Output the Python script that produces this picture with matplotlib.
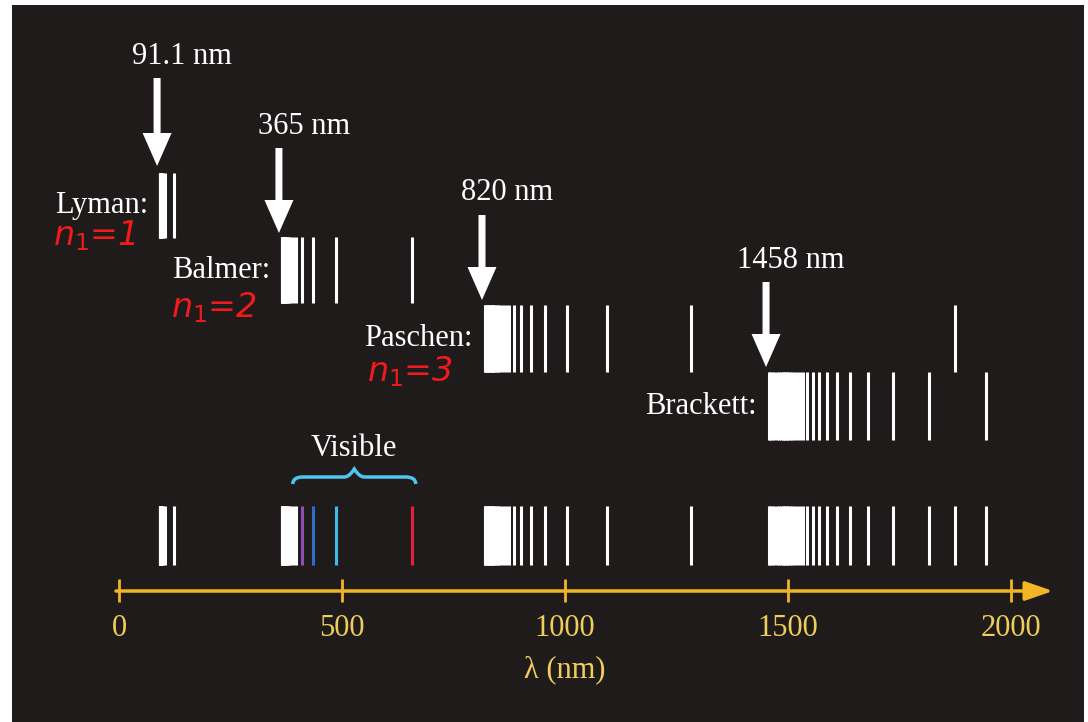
import matplotlib
matplotlib.use("Agg")
import matplotlib.pyplot as plt
from matplotlib.path import Path
from matplotlib.patches import PathPatch

# hydrogen lines (nm)
lyman = [121.6, 102.6, 97.3, 95.0, 93.8, 93.1, 92.6, 92.3, 92.1, 91.9, 91.7, 91.5, 91.3, 91.1]
balmer = [656.3, 486.1, 434.0, 410.2, 397.0, 388.9, 383.5, 379.8, 377.1, 375.0, 373.4,
          372.2, 371.2, 370.4, 369.7, 368.5, 367.5, 366.6, 365.8, 365.1, 364.6]
paschen = [1875.1, 1281.8, 1093.8, 1004.9, 954.6, 922.9, 901.5, 886.3, 875.0, 866.5,
           859.8, 854.5, 850.2, 846.7, 843.8, 841.3, 839.2, 837.4, 835.9, 834.5,
           832.2, 830.4, 829.0, 826.5, 824.5, 822.5, 821.3, 820.4]
brackett = [1944.6, 1817.4, 1736.2, 1680.7, 1640.7, 1611.0, 1588.2, 1570.3, 1556.0,
            1544.3, 1534.7, 1526.6, 1519.8, 1513.9, 1508.9, 1504.5, 1500.7, 1497.3,
            1494.3, 1491.6, 1489.2, 1485.1, 1480.0, 1475.0, 1470.0, 1465.0, 1461.0, 1458.0]

series_names = ["Lyman:", "Balmer:", "Paschen:", "Brackett:"]
series_lines = [lyman, balmer, paschen, brackett]
limits = [91.1, 364.6, 820.4, 1458.0]
limit_labels = ["91.1 nm", "365 nm", "820 nm", "1458 nm"]
n1_labels = [r"$n_1$=1", r"$n_1$=2", r"$n_1$=3"]

# coloured lines in the visible range
visible_colors = {410.2: "#8e4cb8", 434.0: "#2f6fd0", 486.1: "#3fbbe8", 656.3: "#e2203e"}
visible_range = (389, 665)

ticks = [0, 500, 1000, 1500, 2000]

# layout (pixel rows of the 1088x722 picture, y axis is inverted)
px_per_nm = 0.4455
row_spans = [(173, 238), (237, 303), (305, 372), (372, 440)]
arrow_tops = [78, 148, 215, 282]
arrow_tips = [166, 233, 300, 367]
n1_pos = [(95, 236), (214, 308), (410, 372)]
combined_span = (506, 565)
axis_y = 591

bg = "#1f1b1b"
gold = "#f2b525"
tick_col = "#efcd5a"
serif = ["Liberation Serif", "DejaVu Serif"]
fs = 22

fig = plt.figure(figsize=(10.88, 7.22), dpi=100, facecolor="white")
ax = fig.add_axes([12 / 1088, 0, (1084 - 12) / 1088, (722 - 5) / 722])
ax.set_facecolor(bg)
x0 = 119.5


def px2nm(p):
    return (p - x0) / px_per_nm


ax.set_xlim(px2nm(12), px2nm(1084))
ax.set_ylim(722, 5)
ax.set_xticks([])
ax.set_yticks([])
for s in ax.spines.values():
    s.set_visible(False)

lw = 2.2
dnm = 1 / px_per_nm  # one pixel in nm

# the four series rows
for i in range(4):
    top, bot = row_spans[i]
    ax.vlines(series_lines[i], top, bot, colors="white", lw=lw, capstyle="butt")
    lim = limits[i]
    ax.arrow(lim - 3 * dnm, arrow_tops[i], 0, arrow_tips[i] - arrow_tops[i], width=7 * dnm,
             head_width=29 * dnm, head_length=33, length_includes_head=True,
             color="white", ec="none")
    ax.text(lim + 22 * dnm, arrow_tops[i] - 22, limit_labels[i], color="white",
            fontsize=fs, family=serif, ha="center", va="center")
    ax.text(lim - 12 * dnm, (top + bot) / 2, series_names[i], color="white",
            fontsize=fs, family=serif, ha="right", va="center")

for (px, py), lab in zip(n1_pos, n1_labels):
    ax.text(px2nm(px), py, lab, color="#f21a1a", fontsize=24, style="italic",
            ha="center", va="center")

# combined spectrum
all_lines = lyman + balmer + paschen + brackett
cols = [visible_colors.get(w, "white") for w in all_lines]
ax.vlines(all_lines, combined_span[0], combined_span[1], colors=cols, lw=lw,
          capstyle="butt")

# "Visible" brace
a, b = visible_range
m = (a + b) / 2
k = 10 * dnm
verts = [(a, 484), (a, 477), (a + k, 477), (m - k, 477), (m - k / 2, 477), (m, 469),
         (m + k / 2, 477), (m + k, 477), (b - k, 477), (b, 477), (b, 484)]
codes = [Path.MOVETO, Path.CURVE3, Path.CURVE3, Path.LINETO, Path.CURVE3, Path.CURVE3,
         Path.CURVE3, Path.CURVE3, Path.LINETO, Path.CURVE3, Path.CURVE3]
ax.add_patch(PathPatch(Path(verts, codes), fc="none", ec="#4fc6ee", lw=2.5))
ax.text(m, 449, "Visible", color="white", fontsize=fs, family=serif,
        ha="center", va="center")

# wavelength axis
ax.annotate("", xy=(px2nm(1053), axis_y), xytext=(px2nm(116), axis_y),
            arrowprops=dict(arrowstyle="-|>,head_length=1.3,head_width=0.45",
                            color=gold, lw=2.5, mutation_scale=13, shrinkA=0, shrinkB=0))
ax.vlines(ticks, axis_y - 12, axis_y + 11, colors=gold, lw=2)
for t in ticks:
    ax.text(t, 628, str(t), color=tick_col, fontsize=fs, family=serif,
            ha="center", va="center")
ax.text(1000, 670, "λ (nm)", color=tick_col, fontsize=fs, family=serif,
        ha="center", va="center")

fig.savefig("out.png", dpi=100, facecolor="white")
